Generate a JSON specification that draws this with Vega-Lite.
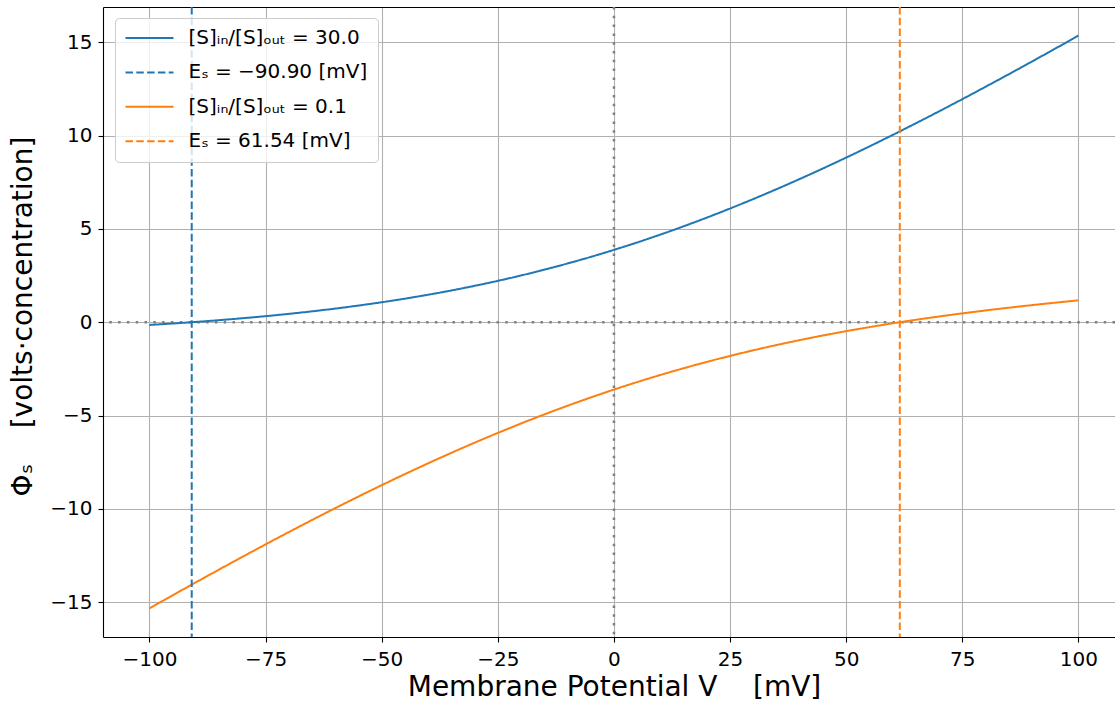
{
  "$schema": "https://vega.github.io/schema/vega-lite/v6.json",
  "width": 1012,
  "height": 630,
  "autosize": {"type": "none"},
  "padding": {"left": 103, "top": 7, "right": 0, "bottom": 67},
  "background": "white",
  "config": {
    "font": "DejaVu Sans",
    "view": {"stroke": null},
    "axis": {
      "domainColor": "black",
      "domainWidth": 1.1,
      "tickColor": "black",
      "tickWidth": 1.1,
      "tickSize": 5,
      "labelFont": "DejaVu Sans",
      "labelFontSize": 20,
      "labelColor": "black",
      "labelFlush": false,
      "gridColor": "#b0b0b0",
      "gridWidth": 1.1,
      "titleFont": "DejaVu Sans",
      "titleFontSize": 28,
      "titleFontWeight": "normal",
      "titleColor": "black"
    }
  },
  "datasets": {
    "curves": [
      {"V": -100, "phi": -0.1478, "s": "ratio30"},
      {"V": -90, "phi": 0.0159, "s": "ratio30"},
      {"V": -80, "phi": 0.2120, "s": "ratio30"},
      {"V": -70, "phi": 0.4476, "s": "ratio30"},
      {"V": -60, "phi": 0.7306, "s": "ratio30"},
      {"V": -50, "phi": 1.0696, "s": "ratio30"},
      {"V": -40, "phi": 1.4730, "s": "ratio30"},
      {"V": -30, "phi": 1.9489, "s": "ratio30"},
      {"V": -20, "phi": 2.5043, "s": "ratio30"},
      {"V": -10, "phi": 3.1452, "s": "ratio30"},
      {"V": 0, "phi": 3.8751, "s": "ratio30"},
      {"V": 10, "phi": 4.6952, "s": "ratio30"},
      {"V": 20, "phi": 5.6043, "s": "ratio30"},
      {"V": 30, "phi": 6.5989, "s": "ratio30"},
      {"V": 40, "phi": 7.6730, "s": "ratio30"},
      {"V": 50, "phi": 8.8196, "s": "ratio30"},
      {"V": 60, "phi": 10.0307, "s": "ratio30"},
      {"V": 70, "phi": 11.2976, "s": "ratio30"},
      {"V": 80, "phi": 12.6120, "s": "ratio30"},
      {"V": 90, "phi": 13.9659, "s": "ratio30"},
      {"V": 100, "phi": 15.3522, "s": "ratio30"},
      {"V": -100, "phi": -15.3279, "s": "ratio01"},
      {"V": -90, "phi": -13.9338, "s": "ratio01"},
      {"V": -80, "phi": -12.5698, "s": "ratio01"},
      {"V": -70, "phi": -11.2426, "s": "ratio01"},
      {"V": -60, "phi": -9.9596, "s": "ratio01"},
      {"V": -50, "phi": -8.7286, "s": "ratio01"},
      {"V": -40, "phi": -7.5576, "s": "ratio01"},
      {"V": -30, "phi": -6.4541, "s": "ratio01"},
      {"V": -20, "phi": -5.4247, "s": "ratio01"},
      {"V": -10, "phi": -4.4749, "s": "ratio01"},
      {"V": 0, "phi": -3.6079, "s": "ratio01"},
      {"V": 10, "phi": -2.8249, "s": "ratio01"},
      {"V": 20, "phi": -2.1247, "s": "ratio01"},
      {"V": 30, "phi": -1.5041, "s": "ratio01"},
      {"V": 40, "phi": -0.9576, "s": "ratio01"},
      {"V": 50, "phi": -0.4786, "s": "ratio01"},
      {"V": 60, "phi": -0.0596, "s": "ratio01"},
      {"V": 70, "phi": 0.3074, "s": "ratio01"},
      {"V": 80, "phi": 0.6302, "s": "ratio01"},
      {"V": 90, "phi": 0.9162, "s": "ratio01"},
      {"V": 100, "phi": 1.1721, "s": "ratio01"}
    ],
    "reversal": [
      {"E": -90.90, "s": "E30"},
      {"E": 61.54, "s": "E01"}
    ],
    "zero": [{"v": 0}]
  },
  "layer": [
    {
      "data": {"name": "zero"},
      "mark": {"type": "rule", "color": "#808080", "strokeWidth": 2.5, "strokeDash": [2.5, 6.3]},
      "encoding": {
        "y": {
          "field": "v", "type": "quantitative",
          "scale": {"domain": [-16.862, 16.886], "nice": false, "zero": false},
          "axis": {
            "values": [-15, -10, -5, 0, 5, 10, 15],
            "grid": true,
            "labelPadding": 6,
            "title": "Φₛ\u00a0\u00a0\u00a0\u00a0[volts·concentration]",
            "titleX": -71.5,
            "titleY": 309,
            "titleAlign": "center",
            "titleBaseline": "alphabetic"
          }
        }
      }
    },
    {
      "data": {"name": "zero"},
      "mark": {"type": "rule", "color": "#808080", "strokeWidth": 2.5, "strokeDash": [2.5, 6.3]},
      "encoding": {
        "x": {
          "field": "v", "type": "quantitative",
          "scale": {"domain": [-110, 107.87], "nice": false, "zero": false},
          "axis": {"orient": "top", "labels": false, "ticks": false, "grid": false, "domain": true, "title": null}
        }
      }
    },
    {
      "data": {"name": "curves"},
      "mark": {"type": "line", "strokeWidth": 2, "interpolate": "monotone"},
      "encoding": {
        "x": {
          "field": "V", "type": "quantitative",
          "scale": {"domain": [-110, 107.87], "nice": false, "zero": false},
          "axis": {
            "orient": "bottom",
            "grid": true,
            "values": [-100, -75, -50, -25, 0, 25, 50, 75, 100],
            "labelPadding": 7,
            "title": "Membrane Potential V\u00a0\u00a0\u00a0\u00a0[mV]",
            "titleX": 511,
            "titleY": 58,
            "titleAlign": "center",
            "titleBaseline": "alphabetic"
          }
        },
        "y": {
          "field": "phi", "type": "quantitative",
          "scale": {"domain": [-16.862, 16.886], "nice": false, "zero": false},
          "axis": {
            "values": [-15, -10, -5, 0, 5, 10, 15],
            "grid": true,
            "labelPadding": 6,
            "title": "Φₛ\u00a0\u00a0\u00a0\u00a0[volts·concentration]",
            "titleX": -71.5,
            "titleY": 309,
            "titleAlign": "center",
            "titleBaseline": "alphabetic"
          }
        },
        "color": {
          "field": "s", "type": "nominal",
          "scale": {"domain": ["ratio30", "E30", "ratio01", "E01"], "range": ["#1f77b4", "#1f77b4", "#ff7f0e", "#ff7f0e"]},
          "legend": {
            "orient": "none", "legendX": 12, "legendY": 11, "title": null,
            "padding": 10, "fillColor": "rgba(255,255,255,0.8)", "strokeColor": "#cccccc", "cornerRadius": 4,
            "labelFont": "DejaVu Sans", "labelFontSize": 20, "labelColor": "black", "labelLimit": 500,
            "symbolType": "M-3,0H3", "symbolSize": 256, "symbolStrokeWidth": 2, "symbolOffset": 14.5,
            "labelOffset": 29, "rowPadding": 14.4,
            "labelExpr": "datum.value == 'ratio30' ? '[S]ᵢₙ/[S]ₒᵤₜ = 30.0' : datum.value == 'E30' ? 'Eₛ = −90.90 [mV]' : datum.value == 'ratio01' ? '[S]ᵢₙ/[S]ₒᵤₜ = 0.1' : 'Eₛ = 61.54 [mV]'"
          }
        },
        "strokeDash": {
          "field": "s", "type": "nominal",
          "scale": {"domain": ["ratio30", "E30", "ratio01", "E01"], "range": [[1, 0], [7.5, 3.3], [1, 0], [7.5, 3.3]]},
          "legend": {
            "orient": "none", "legendX": 12, "legendY": 11, "title": null,
            "padding": 10, "fillColor": "rgba(255,255,255,0.8)", "strokeColor": "#cccccc", "cornerRadius": 4,
            "labelFont": "DejaVu Sans", "labelFontSize": 20, "labelColor": "black", "labelLimit": 500,
            "symbolType": "M-3,0H3", "symbolSize": 256, "symbolStrokeWidth": 2, "symbolOffset": 14.5,
            "labelOffset": 29, "rowPadding": 14.4,
            "labelExpr": "datum.value == 'ratio30' ? '[S]ᵢₙ/[S]ₒᵤₜ = 30.0' : datum.value == 'E30' ? 'Eₛ = −90.90 [mV]' : datum.value == 'ratio01' ? '[S]ᵢₙ/[S]ₒᵤₜ = 0.1' : 'Eₛ = 61.54 [mV]'"
          }
        }
      }
    },
    {
      "data": {"name": "reversal"},
      "mark": {"type": "rule", "strokeWidth": 2},
      "encoding": {
        "x": {"field": "E", "type": "quantitative", "scale": {"domain": [-110, 107.87], "nice": false, "zero": false}, "axis": null},
        "color": {"field": "s", "type": "nominal", "scale": {"domain": ["ratio30", "E30", "ratio01", "E01"], "range": ["#1f77b4", "#1f77b4", "#ff7f0e", "#ff7f0e"]}, "legend": null},
        "strokeDash": {"field": "s", "type": "nominal", "scale": {"domain": ["ratio30", "E30", "ratio01", "E01"], "range": [[1, 0], [7.5, 3.3], [1, 0], [7.5, 3.3]]}, "legend": null}
      }
    }
  ],
  "resolve": {"axis": {"x": "independent"}}
}
